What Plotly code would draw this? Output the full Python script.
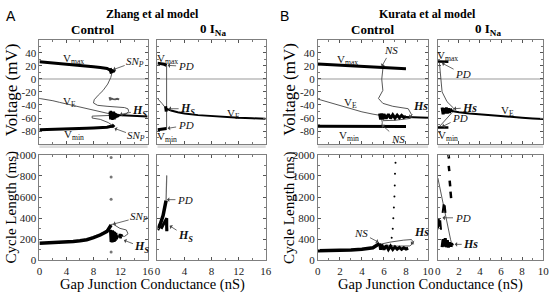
import plotly.graph_objects as go

W, H = 558, 299

# ======================= DATA =======================
# ---- A: Zhang et al model, Control, voltage (g in nS, V in mV)
zh_ctrl_g = [0, 1, 2, 3, 4, 5, 6, 7, 8, 9, 10, 10.6]
zh_ctrl_vmax = [26, 25.2, 24.3, 23.4, 22.5, 21.6, 20.6, 19.6, 18.5, 17.3, 15.8, 12.5]
zh_ctrl_vmin = [-78, -77.8, -77.5, -77.2, -76.9, -76.5, -76.1, -75.7, -75.2, -74.7, -74, -72.5]
zh_ctrl_ve = [-30, -31.5, -33.5, -36, -38.5, -41, -43.5, -46, -48.5, -50.5, -52.5, -54]
zh_ctrl_ve_st_g = [10.6, 11.5, 12, 13, 14, 15, 16]
zh_ctrl_ve_st_v = [-55, -55.5, -56, -56.5, -57, -57.2, -57.5]
zh_ctrl_loop_g = [10.8, 10.55, 10.1, 9.4, 8.7, 8.1, 8.0, 8.6, 10.0, 11.5, 12.6, 13.1, 13.2, 12.8, 12.0]
zh_ctrl_loop_v = [12, 2, -8, -18, -25, -32, -37, -40.5, -42, -43, -44, -46, -50, -54, -56]
zh_ctrl_low_g = [10.5, 9.0, 7.8, 7.8, 9.0, 10.2, 10.9]
zh_ctrl_low_v = [-56, -56.5, -57, -60, -62, -67, -72]
zh_ctrl_hs_g = [10.4, 10.5, 10.55, 10.65, 10.7, 10.8, 10.85, 10.95, 11.0, 11.1, 11.15, 11.25, 11.3, 11.4, 11.5, 11.6, 11.7]
zh_ctrl_hs_v = [-50, -62, -49, -61, -50, -63, -51, -60, -50, -62, -52, -60, -53, -59, -54, -58, -56]
zh_ctrl_snup_g = [10.4, 10.6, 10.5, 10.8, 10.7, 11.0, 10.9, 11.2]
zh_ctrl_snup_v = [15, 8, 16, 9, 14, 10, 13, 11]
zh_ctrl_mid_g = [10.35, 10.5, 10.45, 10.7, 10.6, 10.9, 11.2, 11.5, 11.8]
zh_ctrl_mid_v = [-28, -33, -29, -32, -30, -31, -31.5, -30.5, -31.5]
zh_ctrl_snlo_g = [10.6, 10.8, 10.9, 11.1]
zh_ctrl_snlo_v = [-71, -74, -71.5, -73.5]

# ---- A: Zhang, 0 INa, voltage
zh_nona_g = [0, 0.5, 1.0, 1.35]
zh_nona_vmax = [24, 23.3, 22.2, 20.5]
zh_nona_vmin = [-78, -77.6, -77, -76]
zh_nona_pd_g = [1.35, 1.35]
zh_nona_pd_v = [20.5, -76]
zh_nona_ve_un_g = [0, 0.3, 0.7, 1.0, 1.25]
zh_nona_ve_un_v = [-30, -33, -38, -42, -45]
zh_nona_ve_g = [1.25, 2, 3, 4, 6, 8, 10, 12, 14, 16]
zh_nona_ve_v = [-45.5, -48.5, -51, -53, -55.5, -57.2, -58.5, -59.5, -60.3, -61]
zh_nona_hs_g = [1.2, 1.3, 1.25, 1.35, 1.2, 1.3]
zh_nona_hs_v = [-42, -50, -43, -49, -45, -47]

# ---- A: Zhang, Control, cycle length (ms)
zh_ctrl_cl_g = [0, 1, 2, 3, 4, 5, 6, 7, 8, 9, 10, 10.6]
zh_ctrl_cl = [162, 164, 166, 169, 173, 178, 185, 195, 215, 240, 275, 335]
zh_ctrl_cl_un_g = [7.6, 8.6, 9.5, 10.2, 10.6]
zh_ctrl_cl_un = [215, 238, 265, 300, 340]
zh_ctrl_cl_hs_g = [10.5, 10.6, 10.65, 10.75, 10.8, 10.9, 10.95, 11.05, 11.1, 11.2, 11.3, 11.4, 11.5]
zh_ctrl_cl_hs = [290, 175, 280, 170, 285, 180, 275, 175, 270, 185, 260, 200, 240]
zh_ctrl_cl_loop_g = [10.6, 10.9, 11.9, 12.85, 13.1, 12.6, 11.9]
zh_ctrl_cl_loop = [340, 343, 303, 288, 252, 227, 233]
zh_ctrl_cl_hs2_g = [11.8, 11.9, 12.0, 12.1, 12.2]
zh_ctrl_cl_hs2 = [215, 250, 210, 245, 225]
zh_ctrl_cl_dots_g = [10.6, 10.6, 10.6, 10.6]
zh_ctrl_cl_dots = [975, 790, 580, 80]

# ---- A: Zhang, 0 INa, cycle length
zh_nona_cl_g = [0, 0.44, 0.83, 1.12, 1.27]
zh_nona_cl = [288, 348, 425, 500, 565]
zh_nona_cl_un_g = [1.27, 1.32, 1.37]
zh_nona_cl_un = [565, 680, 805]
zh_nona_cl_hs_g = [0.53, 0.8, 1.1, 1.3, 1.37, 1.37, 1.33, 1.4]
zh_nona_cl_hs = [300, 330, 365, 390, 400, 275, 380, 280]

# ---- B: Kurata et al model, Control, voltage
ku_ctrl_g = [0, 1, 2, 3, 4, 5, 6, 7, 8]
ku_ctrl_vmax = [22.5, 21.7, 20.9, 20.1, 19.3, 18.5, 17.3, 16.2, 15.3]
ku_ctrl_vmin = [-72.5, -72.5, -72.6, -72.6, -72.7, -72.7, -72.8, -72.8, -72.8]
ku_ctrl_ve_un_g = [0, 1, 2, 3, 4, 5, 5.7]
ku_ctrl_ve_un_v = [-31, -36, -41, -46, -50.5, -54, -56]
ku_ctrl_ve_g = [8, 9, 10]
ku_ctrl_ve_v = [-58.3, -59, -59.5]
ku_ctrl_hs_g = [5.6, 5.7, 5.8, 5.9, 6.0, 6.2, 6.4, 6.6, 6.8, 7.0, 7.2, 7.4, 7.6, 7.8, 8.0]
ku_ctrl_hs_v = [-53, -62, -53, -62, -54, -61, -54, -60.5, -55, -60, -55.5, -59.5, -56, -59, -57.5]
ku_ctrl_loop_g = [5.9, 5.8, 5.9, 5.5, 5.9, 6.8, 8.2, 8.5, 8.4, 7.0, 5.9]
ku_ctrl_loop_v = [15, -0.5, -17.7, -30, -37.5, -42, -45.7, -54.6, -60.5, -63.4, -64]
ku_ctrl_low_g = [5.8, 5.85, 5.8]
ku_ctrl_low_v = [-62, -67, -72]

# ---- B: Kurata, 0 INa, voltage
ku_nona_g = [0, 0.5, 1.0]
ku_nona_vmax = [26.5, 26.3, 26]
ku_nona_vmin = [-74.5, -74.5, -74.5]
ku_nona_un_g = [0.15, 0.25, 0.4, 0.87, 1.5, 1.35, 0.87, 0.4, 0.15]
ku_nona_un_v = [24, -0.5, -20, -35, -45, -51.5, -59.6, -69, -73]
ku_nona_ve_g = [0.5, 1, 2, 3, 4, 5, 6, 7, 8, 9, 10]
ku_nona_ve_v = [-47, -48.5, -51, -53, -54.5, -56, -57.3, -58.5, -59.5, -60.5, -61.5]
ku_nona_hs_g = [0.4, 0.5, 0.6, 0.7, 0.8, 0.9, 1.0, 1.1, 1.2, 1.3]
ku_nona_hs_v = [-44, -54, -45, -53, -44, -53, -45, -52, -46, -50]

# ---- B: Kurata, Control, cycle length
ku_ctrl_cl_g = [0, 1, 2, 3, 4, 5, 5.6]
ku_ctrl_cl = [180, 183, 188, 196, 210, 240, 320]
ku_ctrl_cl_hs_g = [5.6, 5.7, 5.8, 6.0, 6.2, 6.4, 6.6, 6.8, 7.0, 7.2, 7.4, 7.6, 7.8, 8.0, 8.2]
ku_ctrl_cl_hs = [320, 200, 300, 205, 280, 205, 270, 205, 255, 210, 245, 210, 240, 215, 230]
ku_ctrl_cl_loop_g = [5.65, 6.55, 7.75, 8.5, 8.7, 8.35, 7.1, 6.2]
ku_ctrl_cl_loop = [305, 345, 382, 394, 333, 273, 270, 290]
ku_ctrl_cl_dots_g = [7.05, 7.0, 6.98, 6.95, 6.9, 6.85, 6.8, 6.7]
ku_ctrl_cl_dots = [1850, 1640, 1420, 1210, 1000, 800, 600, 430]

# ---- B: Kurata, 0 INa, cycle length
ku_nona_cl_un_g = [0, 0.4, 0.8, 1.2, 1.4]
ku_nona_cl_un = [1560, 1150, 750, 400, 250]
ku_nona_cl_burst_g = [1.0, 1.06, None, 1.03, 1.09, None, 1.12, 1.17, None, 1.2, 1.26]
ku_nona_cl_burst = [2000, 1930, None, 1790, 1690, None, 1510, 1400, None, 1300, 1180]
ku_nona_cl_pd_g = [0.45, 0.55, 0.6, 0.65, 0.72, None, 0.0, 0.08, 0.15, 0.22, 0.3]
ku_nona_cl_pd = [900, 1060, 950, 1040, 900, None, 590, 790, 640, 760, 580]
ku_nona_cl_hs_g = [0.4, 0.5, 0.6, 0.7, 0.8, 0.9, 1.0, 1.1, 1.2, 1.3, 1.4]
ku_nona_cl_hs = [250, 400, 260, 420, 250, 380, 245, 340, 260, 320, 280]

# Tick labels
xA_ticks = [0, 4, 8, 12, 16]
xB_ticks = [0, 2, 4, 6, 8, 10]
yV_ticks = [-80, -60, -40, -20, 0, 20, 40]
yA_ticks = [0, 200, 400, 600, 800, 1000]
yB_ticks = [0, 400, 800, 1200, 1600, 2000]

# ======================= FIGURE =======================
fig = go.Figure()

BLACK = "#000000"
THIN = "#444444"
SERIF = "Liberation Serif, Times New Roman, Times, serif"


def ax_names(i):
    return ("x" if i == 1 else f"x{i}"), ("y" if i == 1 else f"y{i}")


def line(i, x, y, thick=True, color=None, width=None):
    xa, ya = ax_names(i)
    fig.add_trace(go.Scatter(
        x=x, y=y, mode="lines", xaxis=xa, yaxis=ya, showlegend=False,
        hoverinfo="skip", connectgaps=False,
        line=dict(color=color or (BLACK if thick else THIN),
                  width=width or (3 if thick else 0.9)),
    ))


def dots(i, x, y, color, size):
    xa, ya = ax_names(i)
    fig.add_trace(go.Scatter(
        x=x, y=y, mode="markers", xaxis=xa, yaxis=ya, showlegend=False,
        hoverinfo="skip", marker=dict(color=color, size=size, line=dict(width=0)),
    ))


# Panel 1: A control voltage
line(1, zh_ctrl_g, zh_ctrl_ve, thick=False)
line(1, zh_ctrl_loop_g, zh_ctrl_loop_v, thick=False)
line(1, zh_ctrl_low_g, zh_ctrl_low_v, thick=False)
line(1, zh_ctrl_g, zh_ctrl_vmax)
line(1, zh_ctrl_g, zh_ctrl_vmin)
line(1, zh_ctrl_ve_st_g, zh_ctrl_ve_st_v, width=2)
line(1, zh_ctrl_hs_g, zh_ctrl_hs_v, width=2.5)
line(1, zh_ctrl_snup_g, zh_ctrl_snup_v, width=2.5)
line(1, zh_ctrl_mid_g, zh_ctrl_mid_v, color="#555555", width=1.8)
line(1, zh_ctrl_snlo_g, zh_ctrl_snlo_v, width=2.5)

# Panel 2: A 0 INa voltage
line(2, zh_nona_pd_g, zh_nona_pd_v, thick=False)
line(2, zh_nona_ve_un_g, zh_nona_ve_un_v, thick=False)
line(2, zh_nona_g, zh_nona_vmax)
line(2, zh_nona_g, zh_nona_vmin)
line(2, zh_nona_ve_g, zh_nona_ve_v, width=2)
line(2, zh_nona_hs_g, zh_nona_hs_v, width=3)

# Panel 3: A control cycle length
line(3, zh_ctrl_cl_un_g, zh_ctrl_cl_un, color="#888888", width=1.2)
line(3, zh_ctrl_cl_g, zh_ctrl_cl, width=3.5)
line(3, zh_ctrl_cl_loop_g, zh_ctrl_cl_loop, thick=False)
line(3, zh_ctrl_cl_hs_g, zh_ctrl_cl_hs, width=3)
line(3, zh_ctrl_cl_hs2_g, zh_ctrl_cl_hs2, width=2.5)
dots(3, zh_ctrl_cl_dots_g, zh_ctrl_cl_dots, "#777777", 3)

# Panel 4: A 0 INa cycle length
line(4, zh_nona_cl_un_g, zh_nona_cl_un, color="#666666", width=1.2)
line(4, zh_nona_cl_g, zh_nona_cl, width=3.5)
line(4, zh_nona_cl_hs_g, zh_nona_cl_hs, width=3)

# Panel 5: B control voltage
line(5, ku_ctrl_ve_un_g, ku_ctrl_ve_un_v, thick=False)
line(5, ku_ctrl_loop_g, ku_ctrl_loop_v, thick=False)
line(5, ku_ctrl_low_g, ku_ctrl_low_v, thick=False)
line(5, ku_ctrl_g, ku_ctrl_vmax)
line(5, ku_ctrl_g, ku_ctrl_vmin)
line(5, ku_ctrl_ve_g, ku_ctrl_ve_v, width=2)
line(5, ku_ctrl_hs_g, ku_ctrl_hs_v, width=3)

# Panel 6: B 0 INa voltage
line(6, ku_nona_un_g, ku_nona_un_v, thick=False)
line(6, ku_nona_g, ku_nona_vmax, width=2.5)
line(6, ku_nona_g, ku_nona_vmin, width=2.5)
line(6, ku_nona_ve_g, ku_nona_ve_v, width=2)
line(6, ku_nona_hs_g, ku_nona_hs_v, width=3)

# Panel 7: B control cycle length
line(7, ku_ctrl_cl_loop_g, ku_ctrl_cl_loop, thick=False)
line(7, ku_ctrl_cl_g, ku_ctrl_cl, width=3.5)
line(7, ku_ctrl_cl_hs_g, ku_ctrl_cl_hs, width=3)
dots(7, ku_ctrl_cl_dots_g, ku_ctrl_cl_dots, BLACK, 2)

# Panel 8: B 0 INa cycle length
line(8, ku_nona_cl_un_g, ku_nona_cl_un, thick=False)
line(8, ku_nona_cl_burst_g, ku_nona_cl_burst, width=2.5)
line(8, ku_nona_cl_pd_g, ku_nona_cl_pd, width=2)
line(8, ku_nona_cl_hs_g, ku_nona_cl_hs, width=3)

# ======================= AXES =======================
def xdom(x0, x1):
    return [x0 / W, x1 / W]


def ydom(y0, y1):
    return [1 - y1 / H, 1 - y0 / H]


AXC = "#7f7f7f"
TICKF = dict(family=SERIF, size=11, color="#222222")

cols = {"Al": (37, 147), "Ar": (157, 267), "Bl": (320, 432), "Br": (442, 549)}
rows = {"t": (35, 144), "b": (155, 265)}

panels = [
    # i, col, row, xrange, xticks, xminor, yrange, yticks, yminor, show x labels, show y labels
    (1, "Al", "t", [0, 16], xA_ticks, 2, [-100, 60], yV_ticks, 10, False, True),
    (2, "Ar", "t", [0, 16], xA_ticks, 2, [-100, 60], yV_ticks, 10, False, False),
    (3, "Al", "b", [0, 16], xA_ticks, 2, [0, 1000], yA_ticks, 100, True, True),
    (4, "Ar", "b", [0, 16], xA_ticks, 2, [0, 1000], yA_ticks, 100, True, False),
    (5, "Bl", "t", [0, 10], xB_ticks, 1, [-100, 60], yV_ticks, 10, False, True),
    (6, "Br", "t", [0, 10], xB_ticks, 1, [-100, 60], yV_ticks, 10, False, False),
    (7, "Bl", "b", [0, 10], xB_ticks, 1, [0, 2000], yB_ticks, 200, True, True),
    (8, "Br", "b", [0, 10], xB_ticks, 1, [0, 2000], yB_ticks, 200, True, False),
]

layout_axes = {}
for i, c, r, xr, xt, xm, yr, yt, ym, sx, sy in panels:
    xa, ya = ax_names(i)
    xkey = "xaxis" if i == 1 else f"xaxis{i}"
    ykey = "yaxis" if i == 1 else f"yaxis{i}"
    common = dict(ticks="inside", ticklen=3, tickcolor="#555555", tickwidth=0.8,
                  showline=True, linecolor=AXC, linewidth=1, mirror="ticks",
                  showgrid=False, tickfont=TICKF, fixedrange=True)
    layout_axes[xkey] = dict(
        domain=xdom(*cols[c]), anchor=ya, range=xr, tickmode="array",
        tickvals=xt, ticktext=[str(v) for v in xt], showticklabels=sx,
        zeroline=False, ticklabelstandoff=0,
        minor=dict(dtick=xm, ticks="inside", ticklen=2, tickcolor="#777777", showgrid=False),
        **common,
    )
    layout_axes[ykey] = dict(
        domain=ydom(*rows[r]), anchor=xa, range=yr, tickmode="array",
        tickvals=yt, ticktext=[str(v) for v in yt], showticklabels=sy,
        zeroline=(r == "t"), zerolinecolor="#cccccc", zerolinewidth=1.5,
        minor=dict(dtick=ym, ticks="inside", ticklen=2, tickcolor="#777777", showgrid=False),
        **common,
    )

# light grey band below the voltage panels
shapes = []
for c in cols.values():
    shapes.append(dict(type="rect", xref="paper", yref="paper",
                       x0=c[0] / W, x1=c[1] / W, y0=1 - 148 / H, y1=1 - 145 / H,
                       fillcolor="#dddddd", line=dict(width=0), layer="below"))

# ======================= ANNOTATIONS =======================
ann = []


def txt(i, x, y, text, size=11, color="#111111"):
    xa, ya = ax_names(i)
    ann.append(dict(xref=xa, yref=ya, x=x, y=y, text=text, showarrow=False,
                    font=dict(family=SERIF, size=size, color=color)))


def arr(i, x, y, text, ax, ay, size=11):
    xa, ya = ax_names(i)
    ann.append(dict(xref=xa, yref=ya, x=x, y=y, text=text, showarrow=True,
                    ax=ax, ay=ay, arrowhead=1, arrowsize=1, arrowwidth=0.8,
                    arrowcolor="#444444", standoff=0,
                    font=dict(family=SERIF, size=size, color="#111111")))


def ptxt(x, y, text, size, angle=0, family=SERIF, xanchor="center", yanchor="middle"):
    ann.append(dict(xref="paper", yref="paper", x=x / W, y=1 - y / H, text=text,
                    showarrow=False, textangle=angle, xanchor=xanchor, yanchor=yanchor,
                    borderpad=0, font=dict(family=family, size=size, color="#000000")))


# Panel labels and titles
ptxt(2, 1, "A", 14, family="Liberation Sans, Arial, sans-serif", xanchor="left", yanchor="top")
ptxt(281, 1, "B", 14, family="Liberation Sans, Arial, sans-serif", xanchor="left", yanchor="top")
ptxt(152, 8, "<b>Zhang et al model</b>", 12)
ptxt(431, 8, "<b>Kurata et al model</b>", 12)
ptxt(91, 24, "<b>Control</b>", 13)
ptxt(213, 24, "<b>0 I<sub>Na</sub></b>", 13)
ptxt(376, 24, "<b>Control</b>", 13)
ptxt(493, 24, "<b>0 I<sub>Na</sub></b>", 13)
ptxt(9, 87, "Voltage (mV)", 17, angle=-90)
ptxt(291, 87, "Voltage (mV)", 17, angle=-90)
ptxt(9, 210, "Cycle Length (ms)", 15, angle=-90)
ptxt(291, 210, "Cycle Length (ms)", 15, angle=-90)
ptxt(152, 290, "Gap Junction Conductance (nS)", 14.5)
ptxt(434, 290, "Gap Junction Conductance (nS)", 14.5)

# Panel 1
txt(1, 5, 30, "V<sub>max</sub>")
txt(1, 4.4, -35, "V<sub>E</sub>")
txt(1, 5.1, -86, "V<sub>min</sub>")
arr(1, 10.9, 14, "<i>SN<sub>P</sub></i>", 22, -8)
arr(1, 11.9, -54.6, "<b><i>H<sub>S</sub></i></b>", 20, -4, size=12)
arr(1, 11.1, -75.8, "<i>SN<sub>P</sub></i>", 22, 8)
# Panel 2
txt(2, 1.5, 31, "V<sub>max</sub>")
txt(2, 11.3, -54, "V<sub>E</sub>")
txt(2, 1.4, -89, "V<sub>min</sub>")
arr(2, 1.5, 20.6, "<i>PD</i>", 18, 1)
arr(2, 1.65, -45.7, "<b><i>H<sub>S</sub></i></b>", 19, 0, size=12)
arr(2, 1.5, -75.8, "<i>PD</i>", 18, -3)
# Panel 3
arr(3, 10.9, 343, "<i>SN<sub>P</sub></i>", 26, -7)
arr(3, 12.5, 191, "<b><i>H<sub>S</sub></i></b>", 18, 7, size=12)
# Panel 4
arr(4, 1.4, 575, "<i>PD</i>", 18, 0)
arr(4, 1.8, 327, "<b><i>H<sub>S</sub></i></b>", 16, 10, size=12)
# Panel 5
txt(5, 2.65, 29, "V<sub>max</sub>")
txt(5, 3.0, -36.4, "V<sub>E</sub>")
txt(5, 2.8, -88, "V<sub>min</sub>")
arr(5, 5.8, 19, "<i>NS</i>", 9, -16)
arr(5, 8.3, -59.5, "<b><i>Hs</i></b>", 11, -12, size=12)
arr(5, 5.8, -70.4, "<i>NS</i>", 16, 14)
# Panel 6
txt(6, 0.9, 35, "V<sub>max</sub>")
txt(6, 6.6, -49.7, "V<sub>E</sub>")
txt(6, 1.0, -88, "V<sub>min</sub>")
arr(6, 0.4, 24, "<i>PD</i>", 21, 11)
arr(6, 1.5, -45.7, "<b><i>Hs</i></b>", 16, -1, size=12)
arr(6, 0.4, -73.3, "<i>PD</i>", 18, -9)
# Panel 7
arr(7, 5.5, 345, "<i>NS</i>", -17, -9)
arr(7, 8.45, 303, "<b><i>Hs</i></b>", 11, -12, size=12)
# Panel 8
arr(8, 0.44, 806, "<i>PD</i>", 20, 0)
arr(8, 1.6, 303, "<b><i>Hs</i></b>", 16, 0, size=12)

fig.update_layout(
    width=W, height=H, margin=dict(l=0, r=0, t=0, b=0),
    paper_bgcolor="white", plot_bgcolor="white",
    font=dict(family=SERIF, color="#111111"),
    shapes=shapes, annotations=ann, showlegend=False,
    **layout_axes,
)

# remove the browser's default 8px page margin so the figure sits at the page origin
fig.write_html(
    "out.html",
    config={"displayModeBar": False},
    post_script="document.body.style.margin='0px';document.body.style.padding='0px';"
                "document.documentElement.style.overflow='hidden';",
)
